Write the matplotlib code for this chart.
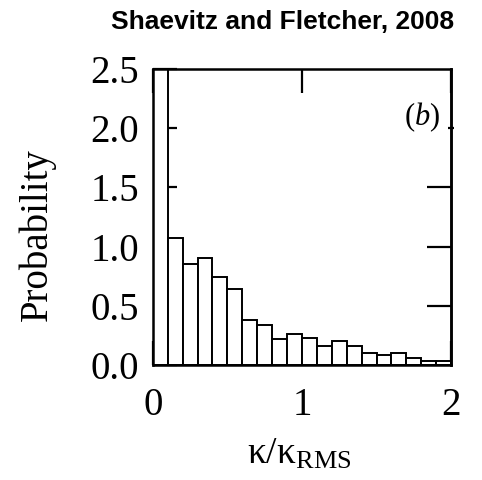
import numpy as np
import matplotlib.pyplot as plt

plt.rcParams['font.family'] = ['Liberation Serif', 'DejaVu Serif']
plt.rcParams['mathtext.fontset'] = 'custom'
plt.rcParams['mathtext.rm'] = 'Liberation Serif'
plt.rcParams['mathtext.it'] = 'Liberation Serif:italic'

# histogram of kappa / kappa_RMS, bins of 0.1
bin_edges = np.round(np.arange(0, 2.01, 0.1), 2)
probability = [2.5, 1.07, 0.85, 0.90, 0.74, 0.64, 0.38, 0.34, 0.22, 0.26,
               0.23, 0.16, 0.20, 0.16, 0.10, 0.08, 0.10, 0.06, 0.035, 0.035]
xticks = [0, 1, 2]
yticks = [0.0, 0.5, 1.0, 1.5, 2.0, 2.5]

fig = plt.figure(figsize=(4.82, 4.80), dpi=100)
ax = fig.add_axes([0.317, 0.240, 0.619, 0.616])

ax.bar(bin_edges[:-1], probability, width=0.1, align='edge',
       facecolor='white', edgecolor='black', linewidth=1.4, zorder=2)

ax.set_xlim(0, 2)
ax.set_ylim(0, 2.5)
ax.set_xticks(xticks)
ax.set_xticklabels([str(t) for t in xticks])
ax.set_yticks(yticks)
ax.set_yticklabels(['%.1f' % t for t in yticks])
ax.tick_params(axis='both', direction='in', length=17, width=1.6,
               labelsize=28, top=True, right=False, zorder=5)
ax.tick_params(axis='x', pad=16)
ax.tick_params(axis='y', pad=10)
for s in ax.spines.values():
    s.set_linewidth(1.8)
    s.set_zorder(6)

# right side ticks (long inward ones, short at 2.0)
sec = ax.secondary_yaxis('right')
sec.set_yticks([0.5, 1.0, 1.5])
sec.tick_params(direction='in', length=17, width=1.6, labelright=False)
sec.set_yticks([2.0], minor=True)
sec.tick_params(which='minor', direction='inout', length=5, width=1.6)
sec.spines['right'].set_linewidth(1.8)

ax.set_ylabel('Probability', fontsize=28)
ax.yaxis.set_label_coords(-0.325, 0.44)
ax.set_xlabel(r'$\mathrm{κ/κ}_{\mathrm{RMS}}$', fontsize=27)
ax.xaxis.set_label_coords(0.49, -0.245)

ax.text(0.963, 0.838, r'($b$)', transform=ax.transAxes, ha='right', va='center',
        fontsize=22, zorder=7)

fig.text(0.587, 0.954, 'Shaevitz and Fletcher, 2008', ha='center', va='center',
         fontsize=19, fontweight='bold', family=['Liberation Sans', 'DejaVu Sans'])

fig.savefig('out.png', dpi=100)
